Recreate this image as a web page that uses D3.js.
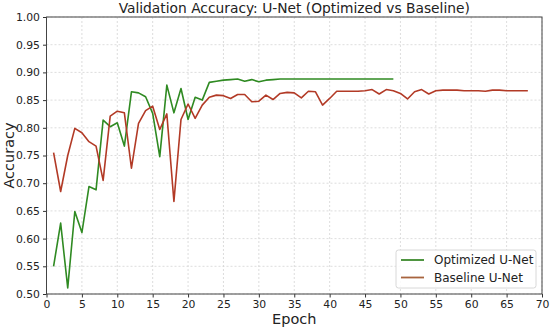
<!DOCTYPE html>
<html>
<head>
<meta charset="utf-8">
<script src="https://cdn.jsdelivr.net/npm/d3@7"></script>
<style>
  body { margin: 0; background: #fff; }
  .chart text { font-family: "DejaVu Sans", sans-serif; fill: #222; }
</style>
</head>
<body>
<div class="chart"></div>
<script>
// validation accuracy per epoch
const optimizedAcc = [0.550, 0.628, 0.511, 0.649, 0.611, 0.694, 0.688, 0.814, 0.802, 0.809,
    0.767, 0.865, 0.863, 0.856, 0.826, 0.748, 0.877, 0.827, 0.871, 0.815,
    0.855, 0.850, 0.882, 0.884, 0.886, 0.887, 0.888, 0.884, 0.887, 0.883,
    0.886, 0.887, 0.888, 0.888, 0.888, 0.888, 0.888, 0.888, 0.888, 0.888,
    0.888, 0.888, 0.888, 0.888, 0.888, 0.888, 0.888, 0.888, 0.888];
const baselineAcc = [0.755, 0.685, 0.750, 0.799, 0.791, 0.775, 0.767, 0.705, 0.821, 0.830,
    0.827, 0.727, 0.808, 0.831, 0.839, 0.797, 0.825, 0.667, 0.815, 0.843,
    0.817, 0.841, 0.855, 0.859, 0.858, 0.853, 0.860, 0.860, 0.847, 0.848,
    0.859, 0.851, 0.862, 0.864, 0.863, 0.854, 0.866, 0.865, 0.841, 0.853,
    0.866, 0.866, 0.866, 0.866, 0.867, 0.869, 0.861, 0.869, 0.867, 0.862,
    0.852, 0.865, 0.869, 0.861, 0.867, 0.868, 0.868, 0.868, 0.867, 0.867,
    0.867, 0.866, 0.868, 0.868, 0.867, 0.867, 0.867, 0.867];
const xTicks = d3.range(0, 71, 5);
const yTicks = d3.range(0.50, 1.001, 0.05);
const seriesNames = ["Optimized U-Net", "Baseline U-Net"];
const seriesColors = ["#2f8a22", "#b23a26"];
const legendColors = ["#3c8a2c", "#a8643e"];

let margin = {top: 17, right: 8, bottom: 35, left: 46.5},
    width = 550 - margin.left - margin.right,
    height = 329 - margin.top - margin.bottom;

let series = [optimizedAcc, baselineAcc].map((vals, i) => ({
    name: seriesNames[i],
    color: seriesColors[i],
    values: vals.map((v, j) => ({epoch: j + 1, acc: v}))
}));

let svg = d3.select(".chart").append("svg")
    .attr("width", 550).attr("height", 329)
    .append("g")
    .attr("transform", "translate(" + margin.left + "," + margin.top + ")");

let xScale = d3.scaleLinear().domain([0, 70]).range([0, width]);
let yScale = d3.scaleLinear().domain([0.5, 1.0]).range([height, 0]);

// dotted grid
svg.append("g").selectAll("line.vx").data(xTicks).enter().append("line")
    .attr("x1", d => xScale(d)).attr("x2", d => xScale(d))
    .attr("y1", 0).attr("y2", height)
    .attr("stroke", "#d4d4d4").attr("stroke-width", 0.8).attr("stroke-dasharray", "2,2");
svg.append("g").selectAll("line.hy").data(yTicks).enter().append("line")
    .attr("x1", 0).attr("x2", width)
    .attr("y1", d => yScale(d)).attr("y2", d => yScale(d))
    .attr("stroke", "#d4d4d4").attr("stroke-width", 0.8).attr("stroke-dasharray", "2,2");

// axes
let xAxis = svg.append("g")
    .attr("transform", "translate(0," + height + ")")
    .call(d3.axisBottom(xScale).tickValues(xTicks).tickSize(3.5).tickPadding(3).tickFormat(d3.format("d")));
let yAxis = svg.append("g")
    .call(d3.axisLeft(yScale).tickValues(yTicks).tickSize(3.5).tickPadding(3).tickFormat(d3.format(".2f")));
[xAxis, yAxis].forEach(a => {
    a.select(".domain").remove();
    a.selectAll("line").attr("stroke", "#333");
    a.selectAll("text").style("font-size", "10.8px").style("font-family", "DejaVu Sans").attr("fill", "#222");
});

// lines
let line = d3.line().x(d => xScale(d.epoch)).y(d => yScale(d.acc));
svg.selectAll(".metrics").data(series).enter().append("path")
    .attr("fill", "none")
    .attr("stroke", d => d.color)
    .attr("stroke-width", 1.6)
    .attr("stroke-linejoin", "round")
    .attr("d", d => line(d.values));

// frame
svg.append("rect").attr("width", width).attr("height", height)
    .attr("fill", "none").attr("stroke", "#444").attr("stroke-width", 1);

// titles
svg.append("text").attr("x", width / 2).attr("y", -4)
    .attr("text-anchor", "middle").style("font-size", "13.8px")
    .text("Validation Accuracy: U-Net (Optimized vs Baseline)");
svg.append("text").attr("x", width / 2).attr("y", height + 30)
    .attr("text-anchor", "middle").style("font-size", "14.5px").text("Epoch");
svg.append("text")
    .attr("transform", "translate(" + (-33) + "," + (height / 2) + ") rotate(-90)")
    .attr("text-anchor", "middle").style("font-size", "14.5px").text("Accuracy");

// legend
let legend = svg.append("g").attr("transform", "translate(" + (width - 146) + "," + (height - 44) + ")");
legend.append("rect").attr("width", 140).attr("height", 38).attr("rx", 2.5)
    .attr("fill", "#fff").attr("fill-opacity", 0.85).attr("stroke", "#d8d8d8");
seriesNames.forEach((name, i) => {
    let gy = 10 + i * 17.5;
    legend.append("line").attr("x1", 5).attr("x2", 28).attr("y1", gy).attr("y2", gy)
        .attr("stroke", legendColors[i]).attr("stroke-width", 1.8);
    legend.append("text").attr("x", 38).attr("y", gy + 4).style("font-size", "12px").text(name);
});
</script>
</body>
</html>
